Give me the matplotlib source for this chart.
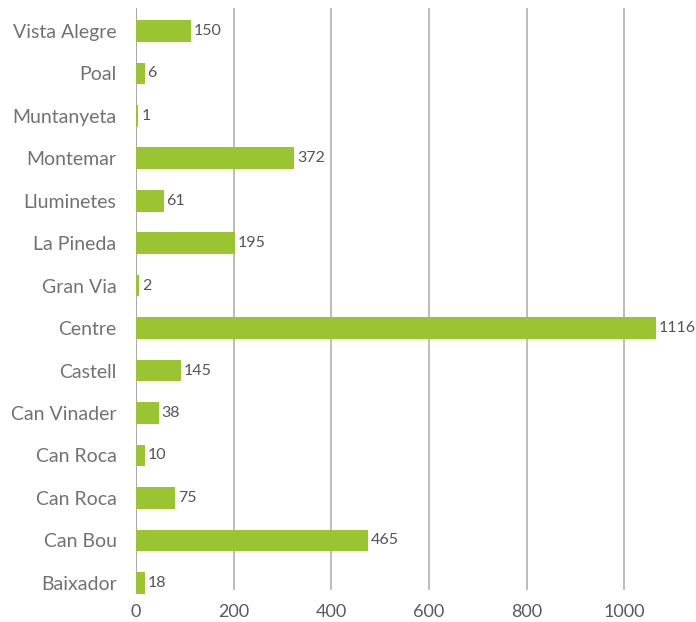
import matplotlib.pyplot as plt

# neighbourhoods, top to bottom as in the chart
barris = ['Vista Alegre', 'Poal', 'Muntanyeta', 'Montemar', 'Lluminetes',
          'La Pineda', 'Gran Via', 'Centre', 'Castell', 'Can Vinader',
          'Can Roca', 'Can Roca', 'Can Bou', 'Baixador']
# bar lengths as drawn
llargada = [113, 18, 5, 324, 57, 203, 6, 1065, 92, 47, 18, 80, 475, 18]
# numbers printed next to the bars
etiquetes = ['150', '6', '1', '372', '61', '195', '2', '1116', '145', '38',
             '10', '75', '465', '18']
xticks = [0, 200, 400, 600, 800, 1000]

plt.rcParams['font.family'] = ['Lato', 'DejaVu Sans']

fig = plt.figure(figsize=(6.96, 6.22), dpi=100)
ax = fig.add_axes([136 / 696, 1 - 590 / 622, 560 / 696, 582 / 622])

pos = list(range(len(barris)))
ax.barh(pos, llargada, height=0.51, color='#9bc432', zorder=3, clip_on=False)

for y, v, t in zip(pos, llargada, etiquetes):
    ax.annotate(t, (v, y), xytext=(2, 0), textcoords='offset points',
                va='center', ha='left', fontsize=11.5, color='#555555', zorder=4)

ax.set_xlim(0, 1147)
ax.set_ylim(13.17, -0.54)
ax.set_yticks(pos)
ax.set_yticklabels(barris, fontsize=14, color='#727272')
ax.set_xticks(xticks)
ax.set_xticklabels([str(x) for x in xticks], fontsize=13, color='#5a5a5a')
ax.tick_params(axis='both', length=0)
ax.tick_params(axis='y', pad=14)
ax.tick_params(axis='x', pad=10)

ax.grid(axis='x', color='#b0b0b0', linewidth=1.2, zorder=0)
ax.axvline(0, color='#707070', linewidth=1.2, zorder=1)
for s in ax.spines.values():
    s.set_visible(False)

fig.savefig('out.png', dpi=100)
